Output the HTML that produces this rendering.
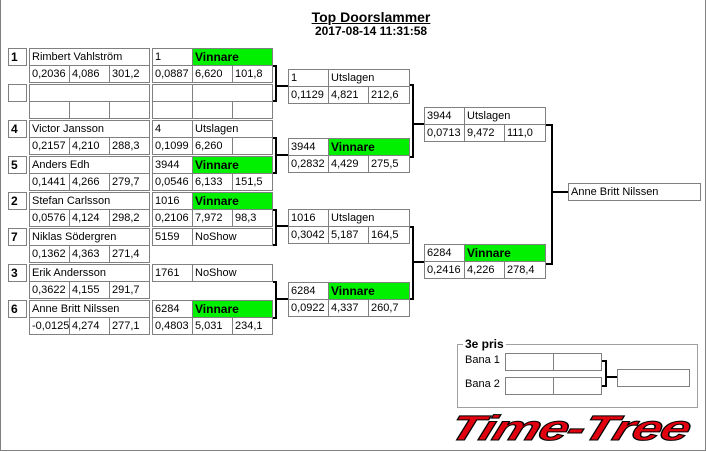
<!DOCTYPE html>
<html><head><meta charset="utf-8"><style>
body{margin:0;width:706px;height:452px;position:relative;background:#fff;font-family:"Liberation Sans",sans-serif;font-size:11px;overflow:hidden}
.f{position:absolute;left:0;top:0;width:704px;height:450px;border:1px solid #808080;border-top:none}
.c{position:absolute;border:1px solid #808080;height:18px;box-sizing:border-box;line-height:16px;padding-left:2px;background:#fff;white-space:nowrap;overflow:hidden;color:#000}
.s{font-weight:bold;font-size:12px;padding-left:2px}
.g{background:#00f000;font-weight:bold;font-size:12px}
.t{position:absolute;width:706px;text-align:center;font-weight:bold}
svg{position:absolute;left:0;top:0}
</style></head><body>
<div class="f"></div>
<div class="t" style="left:18px;top:9px;font-size:14px;text-decoration:underline">Top Doorslammer</div>
<div class="t" style="left:18px;top:24px;font-size:12px">2017-08-14 11:31:58</div>

<!-- slot 1 -->
<div class="c s" style="left:8px;top:48px;width:19px">1</div>
<div class="c" style="left:29px;top:48px;width:121px">Rimbert Vahlström</div>
<div class="c" style="left:29px;top:65px;width:41px">0,2036</div><div class="c" style="left:69px;top:65px;width:41px">4,086</div><div class="c" style="left:109px;top:65px;width:41px">301,2</div>
<div class="c" style="left:152px;top:48px;width:41px">1</div><div class="c g" style="left:192px;top:48px;width:81px">Vinnare</div>
<div class="c" style="left:152px;top:65px;width:41px">0,0887</div><div class="c" style="left:192px;top:65px;width:41px">6,620</div><div class="c" style="left:232px;top:65px;width:41px">101,8</div>
<!-- slot 2 -->
<div class="c s" style="left:8px;top:84px;width:19px"></div>
<div class="c" style="left:29px;top:84px;width:121px"></div>
<div class="c" style="left:29px;top:101px;width:41px"></div><div class="c" style="left:69px;top:101px;width:41px"></div><div class="c" style="left:109px;top:101px;width:41px"></div>
<div class="c" style="left:152px;top:84px;width:41px"></div><div class="c" style="left:192px;top:84px;width:81px"></div>
<div class="c" style="left:152px;top:101px;width:41px"></div><div class="c" style="left:192px;top:101px;width:41px"></div><div class="c" style="left:232px;top:101px;width:41px"></div>
<!-- slot 3 -->
<div class="c s" style="left:8px;top:120px;width:19px">4</div>
<div class="c" style="left:29px;top:120px;width:121px">Victor Jansson</div>
<div class="c" style="left:29px;top:137px;width:41px">0,2157</div><div class="c" style="left:69px;top:137px;width:41px">4,210</div><div class="c" style="left:109px;top:137px;width:41px">288,3</div>
<div class="c" style="left:152px;top:120px;width:41px">4</div><div class="c" style="left:192px;top:120px;width:81px">Utslagen</div>
<div class="c" style="left:152px;top:137px;width:41px">0,1099</div><div class="c" style="left:192px;top:137px;width:41px">6,260</div><div class="c" style="left:232px;top:137px;width:41px"></div>
<!-- slot 4 -->
<div class="c s" style="left:8px;top:156px;width:19px">5</div>
<div class="c" style="left:29px;top:156px;width:121px">Anders Edh</div>
<div class="c" style="left:29px;top:173px;width:41px">0,1441</div><div class="c" style="left:69px;top:173px;width:41px">4,266</div><div class="c" style="left:109px;top:173px;width:41px">279,7</div>
<div class="c" style="left:152px;top:156px;width:41px">3944</div><div class="c g" style="left:192px;top:156px;width:81px">Vinnare</div>
<div class="c" style="left:152px;top:173px;width:41px">0,0546</div><div class="c" style="left:192px;top:173px;width:41px">6,133</div><div class="c" style="left:232px;top:173px;width:41px">151,5</div>
<!-- slot 5 -->
<div class="c s" style="left:8px;top:192px;width:19px">2</div>
<div class="c" style="left:29px;top:192px;width:121px">Stefan Carlsson</div>
<div class="c" style="left:29px;top:209px;width:41px">0,0576</div><div class="c" style="left:69px;top:209px;width:41px">4,124</div><div class="c" style="left:109px;top:209px;width:41px">298,2</div>
<div class="c" style="left:152px;top:192px;width:41px">1016</div><div class="c g" style="left:192px;top:192px;width:81px">Vinnare</div>
<div class="c" style="left:152px;top:209px;width:41px">0,2106</div><div class="c" style="left:192px;top:209px;width:41px">7,972</div><div class="c" style="left:232px;top:209px;width:41px">98,3</div>
<!-- slot 6 -->
<div class="c s" style="left:8px;top:228px;width:19px">7</div>
<div class="c" style="left:29px;top:228px;width:121px">Niklas Södergren</div>
<div class="c" style="left:29px;top:245px;width:41px">0,1362</div><div class="c" style="left:69px;top:245px;width:41px">4,363</div><div class="c" style="left:109px;top:245px;width:41px">271,4</div>
<div class="c" style="left:152px;top:228px;width:41px">5159</div><div class="c" style="left:192px;top:228px;width:81px">NoShow</div>
<!-- slot 7 -->
<div class="c s" style="left:8px;top:264px;width:19px">3</div>
<div class="c" style="left:29px;top:264px;width:121px">Erik Andersson</div>
<div class="c" style="left:29px;top:281px;width:41px">0,3622</div><div class="c" style="left:69px;top:281px;width:41px">4,155</div><div class="c" style="left:109px;top:281px;width:41px">291,7</div>
<div class="c" style="left:152px;top:264px;width:41px">1761</div><div class="c" style="left:192px;top:264px;width:81px">NoShow</div>
<!-- slot 8 -->
<div class="c s" style="left:8px;top:300px;width:19px">6</div>
<div class="c" style="left:29px;top:300px;width:121px">Anne Britt Nilssen</div>
<div class="c" style="left:29px;top:317px;width:41px">-0,0125</div><div class="c" style="left:69px;top:317px;width:41px">4,274</div><div class="c" style="left:109px;top:317px;width:41px">277,1</div>
<div class="c" style="left:152px;top:300px;width:41px">6284</div><div class="c g" style="left:192px;top:300px;width:81px">Vinnare</div>
<div class="c" style="left:152px;top:317px;width:41px">0,4803</div><div class="c" style="left:192px;top:317px;width:41px">5,031</div><div class="c" style="left:232px;top:317px;width:41px">234,1</div>

<!-- round 2 -->
<div class="c" style="left:288px;top:69px;width:41px">1</div><div class="c" style="left:328px;top:69px;width:82px">Utslagen</div>
<div class="c" style="left:288px;top:86px;width:41px">0,1129</div><div class="c" style="left:328px;top:86px;width:41px">4,821</div><div class="c" style="left:368px;top:86px;width:42px">212,6</div>
<div class="c" style="left:288px;top:138px;width:41px">3944</div><div class="c g" style="left:328px;top:138px;width:82px">Vinnare</div>
<div class="c" style="left:288px;top:155px;width:41px">0,2832</div><div class="c" style="left:328px;top:155px;width:41px">4,429</div><div class="c" style="left:368px;top:155px;width:42px">275,5</div>
<div class="c" style="left:288px;top:209px;width:41px">1016</div><div class="c" style="left:328px;top:209px;width:82px">Utslagen</div>
<div class="c" style="left:288px;top:226px;width:41px">0,3042</div><div class="c" style="left:328px;top:226px;width:41px">5,187</div><div class="c" style="left:368px;top:226px;width:42px">164,5</div>
<div class="c" style="left:288px;top:282px;width:41px">6284</div><div class="c g" style="left:328px;top:282px;width:82px">Vinnare</div>
<div class="c" style="left:288px;top:299px;width:41px">0,0922</div><div class="c" style="left:328px;top:299px;width:41px">4,337</div><div class="c" style="left:368px;top:299px;width:42px">260,7</div>
<!-- round 3 -->
<div class="c" style="left:424px;top:107px;width:41px">3944</div><div class="c" style="left:464px;top:107px;width:82px">Utslagen</div>
<div class="c" style="left:424px;top:124px;width:41px">0,0713</div><div class="c" style="left:464px;top:124px;width:41px">9,472</div><div class="c" style="left:504px;top:124px;width:42px">111,0</div>
<div class="c" style="left:424px;top:244px;width:41px">6284</div><div class="c g" style="left:464px;top:244px;width:82px">Vinnare</div>
<div class="c" style="left:424px;top:261px;width:41px">0,2416</div><div class="c" style="left:464px;top:261px;width:41px">4,226</div><div class="c" style="left:504px;top:261px;width:42px">278,4</div>
<!-- final -->
<div class="c" style="left:568px;top:183px;width:133px">Anne Britt Nilssen</div>

<!-- 3e pris -->
<div style="position:absolute;left:457px;top:344px;width:241px;height:64px;border:1px solid #a0a0a0;box-sizing:border-box"></div>
<div style="position:absolute;left:463px;top:337px;background:#fff;padding:0 2px;font-weight:bold;font-size:12px">3e pris</div>
<div style="position:absolute;left:465px;top:354px">Bana 1</div>
<div style="position:absolute;left:465px;top:378px">Bana 2</div>
<div class="c" style="left:505px;top:353px;width:49px"></div><div class="c" style="left:553px;top:353px;width:49px"></div>
<div class="c" style="left:505px;top:377px;width:49px"></div><div class="c" style="left:553px;top:377px;width:49px"></div>
<div class="c" style="left:617px;top:369px;width:73px"></div>

<div style="position:absolute;left:457px;top:409px;font-size:35px;font-weight:bold;font-style:italic;color:#e00010;-webkit-text-stroke:1px #000;letter-spacing:-1px;transform-origin:0 0;transform:scaleX(1.52) skewX(-12deg);white-space:nowrap">Time-Tree</div>

<svg width="706" height="452">
<g stroke="#000" stroke-width="2" fill="none">
<path d="M273 66H276V101H273M276 86H288"/>
<path d="M273 138H276V173H273M276 155H288"/>
<path d="M273 210H276V245H273M276 226H288"/>
<path d="M273 282H276V318H273M276 299H288"/>
<path d="M410 85H413V157H410M413 124H424"/>
<path d="M410 227H413V299H410M413 262H424"/>
<path d="M546 125H552V264H546M552 192H568"/>
<path d="M602 361H606V386H602M606 377H617"/>
</g></svg>
</body></html>
